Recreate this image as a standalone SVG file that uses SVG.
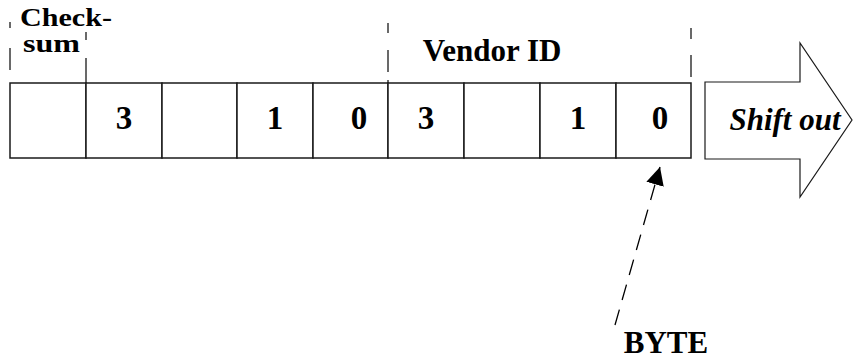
<svg xmlns="http://www.w3.org/2000/svg" width="853" height="360" viewBox="0 0 853 360">
<style>
.t{font-family:"Liberation Serif","Times New Roman",serif;font-weight:bold;fill:#000}
.cell{fill:#fff;stroke:#1a1a1a;stroke-width:1.5}
.dash{fill:none;stroke:#1a1a1a;stroke-width:1.3}
.d{font-size:33px;text-anchor:middle}
</style>
<defs>
<marker id="ah" viewBox="0 0 10 10" refX="10" refY="5" markerWidth="18" markerHeight="18" markerUnits="userSpaceOnUse" orient="auto">
<path d="M0,0 L10,5 L0,10 Z" fill="#000"/>
</marker>
</defs>
<g id="labels">
<text class="t" x="20" y="26" font-size="25" textLength="92" lengthAdjust="spacingAndGlyphs">Check-</text>
<text class="t" x="23" y="52" font-size="25" textLength="57" lengthAdjust="spacingAndGlyphs">sum</text>
<text class="t" x="492" y="61" font-size="31" text-anchor="middle">Vendor ID</text>
</g>
<g id="guides">
<path class="dash" d="M10,22V28M10,48V70M86,32V40M86,58V83M388,23V33M388,50V72M388,80V83M691,28V39M691,55V77"/>
</g>
<g id="register">
<rect class="cell" x="10" y="83" width="76" height="75"/>
<rect class="cell" x="86" y="83" width="76" height="75"/>
<rect class="cell" x="162" y="83" width="75" height="75"/>
<rect class="cell" x="237" y="83" width="76" height="75"/>
<rect class="cell" x="313" y="83" width="75" height="75"/>
<rect class="cell" x="388" y="83" width="76" height="75"/>
<rect class="cell" x="464" y="83" width="76" height="75"/>
<rect class="cell" x="540" y="83" width="76" height="75"/>
<rect class="cell" x="616" y="83" width="75" height="75"/>
<text class="t d" x="124" y="129">3</text>
<text class="t d" x="275" y="129">1</text>
<text class="t d" x="359" y="129">0</text>
<text class="t d" x="426" y="129">3</text>
<text class="t d" x="578" y="129">1</text>
<text class="t d" x="660" y="129">0</text>
</g>
<g id="shift-out">
<path d="M705,82 H800 V43 L852,120 L800,197 V159 H705 Z" fill="#fff" stroke="#1a1a1a" stroke-width="1.2"/>
<text class="t" x="785" y="130" font-size="31" font-style="italic" text-anchor="middle">Shift out</text>
</g>
<g id="byte">
<text class="t" x="666" y="353" font-size="31" text-anchor="middle">BYTE</text>
</g>
<g id="connectors">
<path d="M615,325 L660,167" fill="none" stroke="#000" stroke-width="1.3" stroke-dasharray="16 10" marker-end="url(#ah)"/>
</g>
</svg>
